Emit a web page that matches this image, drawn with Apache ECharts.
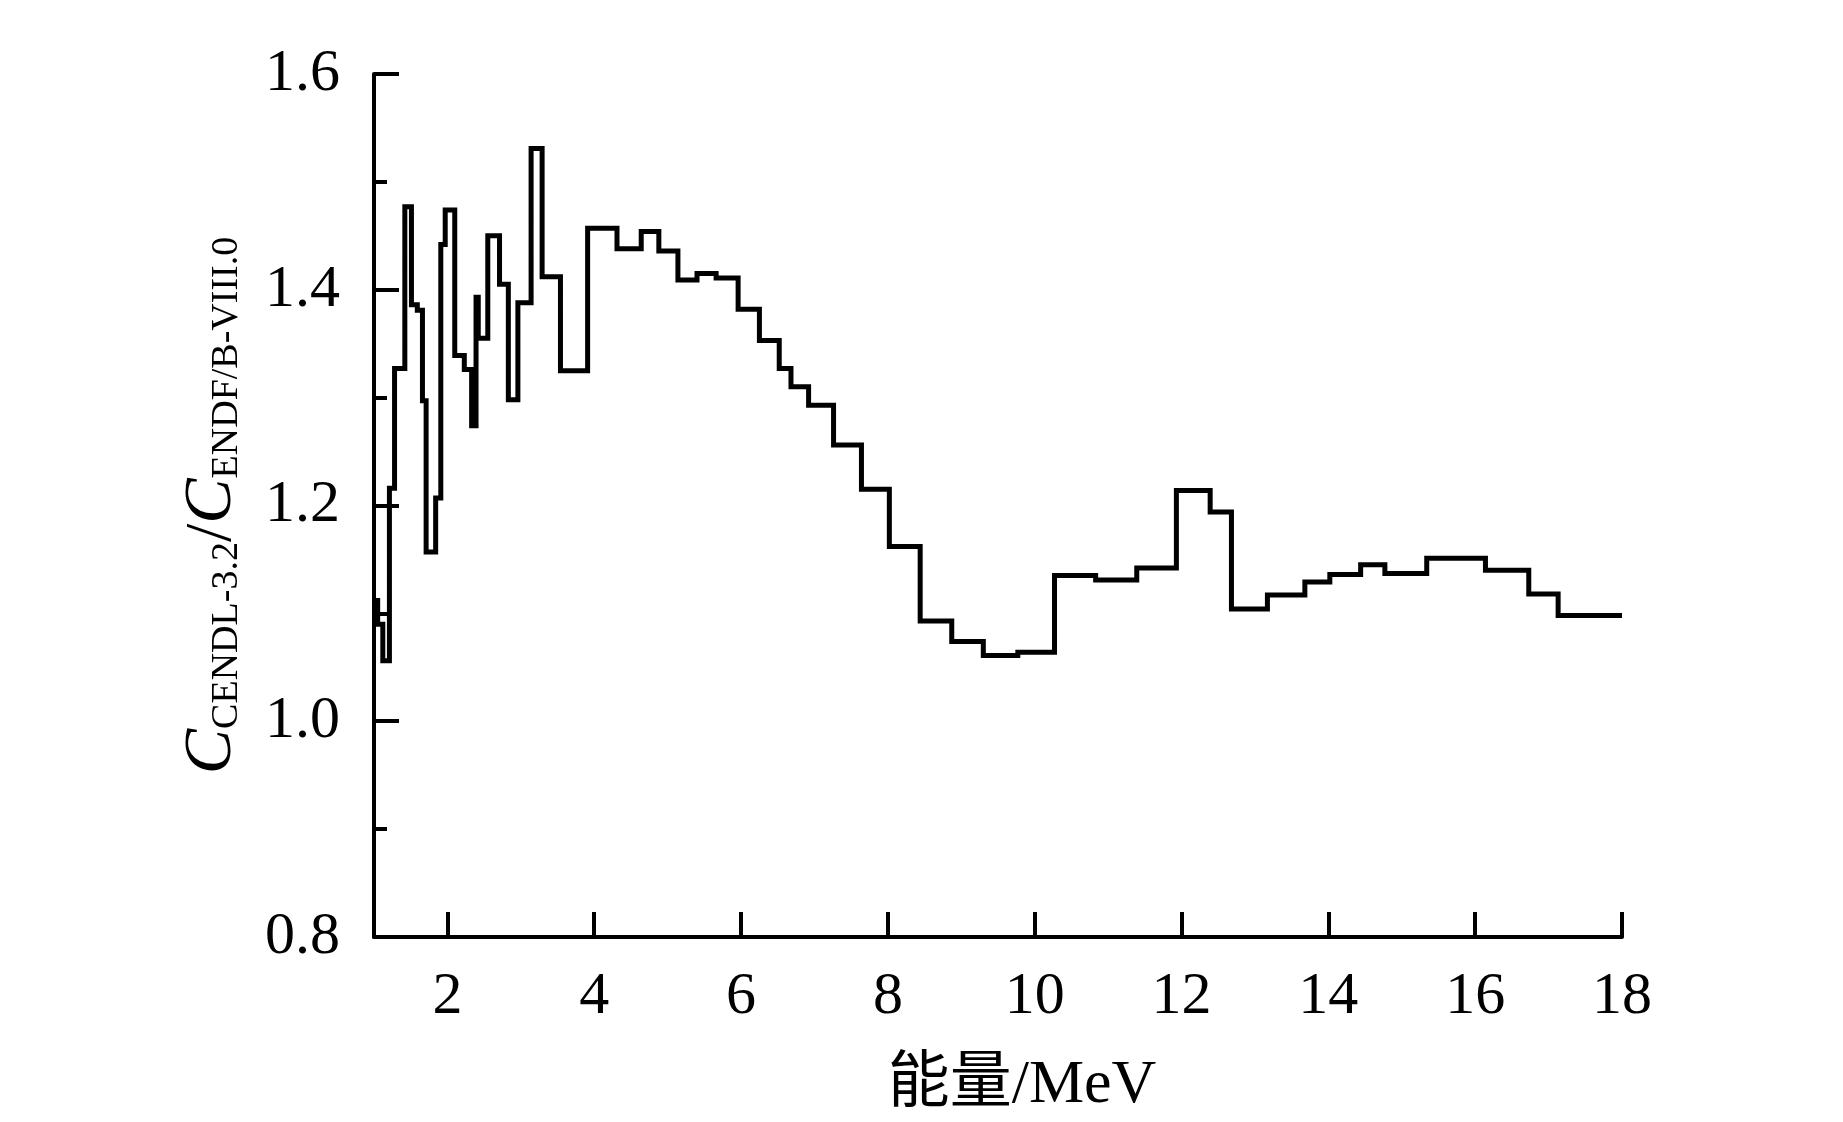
<!DOCTYPE html>
<html>
<head>
<meta charset="utf-8">
<script src="https://cdn.jsdelivr.net/npm/echarts@6/dist/echarts.min.js"></script>
<style>
  html, body { margin: 0; padding: 0; background: #ffffff; }
  #chart { width: 1843px; height: 1122px; }
</style>
</head>
<body>
<div id="chart"></div>
<script>
// Left edge of each energy bin (MeV)
const binStart = [
  1.00, 1.05, 1.12, 1.21, 1.28, 1.42, 1.51, 1.59, 1.66, 1.71,
  1.84, 1.91, 1.97, 2.10, 2.23, 2.33, 2.39, 2.42, 2.55, 2.71,
  2.83, 2.96, 3.14, 3.29, 3.54, 3.91, 4.31, 4.64, 4.88, 5.14,
  5.40, 5.66, 5.96, 6.25, 6.52, 6.68, 6.92, 7.26, 7.64, 8.02,
  8.44, 8.87, 9.30, 9.77, 10.27, 10.83, 11.39, 11.93, 12.39, 12.68,
  13.17, 13.68, 14.02, 14.44, 14.77, 15.34, 16.14, 16.73, 17.13
];
// Ratio C(CENDL-3.2)/C(ENDF/B-VIII.0) in each bin
const ratio = [
  1.112, 1.090, 1.056, 1.216, 1.327, 1.477, 1.386, 1.381, 1.297, 1.157,
  1.207, 1.442, 1.474, 1.339, 1.326, 1.274, 1.393, 1.355, 1.450, 1.405,
  1.298, 1.388, 1.531, 1.412, 1.325, 1.457, 1.438, 1.454, 1.436, 1.409,
  1.415, 1.411, 1.382, 1.353, 1.327, 1.310, 1.293, 1.256, 1.215, 1.162,
  1.093, 1.074, 1.061, 1.064, 1.135, 1.131, 1.142, 1.214, 1.194, 1.104,
  1.117, 1.129, 1.136, 1.145, 1.137, 1.151, 1.140, 1.118, 1.098
];
const lastBinEnd = 18.0;
const xLabelValues = [2, 4, 6, 8, 10, 12, 14, 16, 18];
const yLabelValues = [0.8, 1.0, 1.2, 1.4, 1.6];

const stepData = binStart.map((x, i) => [x, ratio[i]]);
stepData.push([lastBinEnd, ratio[ratio.length - 1]]);

const serif = '"Liberation Serif", "Times New Roman", serif';

const chart = echarts.init(document.getElementById('chart'), null, { renderer: 'canvas' });
chart.setOption({
  backgroundColor: '#ffffff',
  animation: false,
  grid: { left: 374, right: 221, top: 74, bottom: 184, containLabel: false },
  xAxis: {
    type: 'value',
    min: 1,
    max: 18,
    splitNumber: 8,
    name: '能量/MeV',
    nameLocation: 'middle',
    nameGap: 118,
    nameTextStyle: {
      fontFamily: '"Liberation Serif", "Noto Sans CJK SC", serif',
      fontSize: 62,
      color: '#000',
      padding: [0, 0, 0, 48]
    },
    axisLine: { show: true, onZero: false, lineStyle: { color: '#000', width: 4 } },
    axisTick: { show: true, inside: true, length: 25, lineStyle: { color: '#000', width: 4 } },
    axisLabel: {
      show: true,
      margin: 30,
      fontFamily: serif,
      fontSize: 60,
      color: '#000',
      formatter: v => (xLabelValues.indexOf(v) >= 0 ? String(v) : '')
    },
    splitLine: { show: false }
  },
  yAxis: {
    type: 'value',
    min: 0.8,
    max: 1.6,
    interval: 0.2,
    name: '{c|C}{s|CENDL-3.2}{p|/}{c|C}{s|ENDF/B-VIII.0}',
    nameLocation: 'middle',
    nameRotate: 90,
    nameGap: 128,
    nameTextStyle: {
      color: '#000',
      rich: {
        c: { fontFamily: serif, fontStyle: 'italic', fontSize: 68, color: '#000', verticalAlign: 'bottom' },
        p: { fontFamily: serif, fontSize: 66, color: '#000', verticalAlign: 'bottom' },
        s: { fontFamily: serif, fontSize: 38, color: '#000', verticalAlign: 'bottom' }
      }
    },
    axisLine: { show: true, onZero: false, lineStyle: { color: '#000', width: 4 } },
    axisTick: { show: true, inside: true, length: 25, lineStyle: { color: '#000', width: 4 } },
    minorTick: { show: true, splitNumber: 2, length: 13, lineStyle: { color: '#000', width: 4 } },
    axisLabel: {
      show: true,
      margin: 34,
      fontFamily: serif,
      fontSize: 60,
      color: '#000',
      formatter: v => v.toFixed(1)
    },
    splitLine: { show: false },
    minorSplitLine: { show: false }
  },
  series: [{
    type: 'line',
    step: 'end',
    data: stepData,
    symbol: 'none',
    lineStyle: { color: '#000', width: 5, join: 'miter' },
    clip: false
  }]
});
</script>
</body>
</html>
